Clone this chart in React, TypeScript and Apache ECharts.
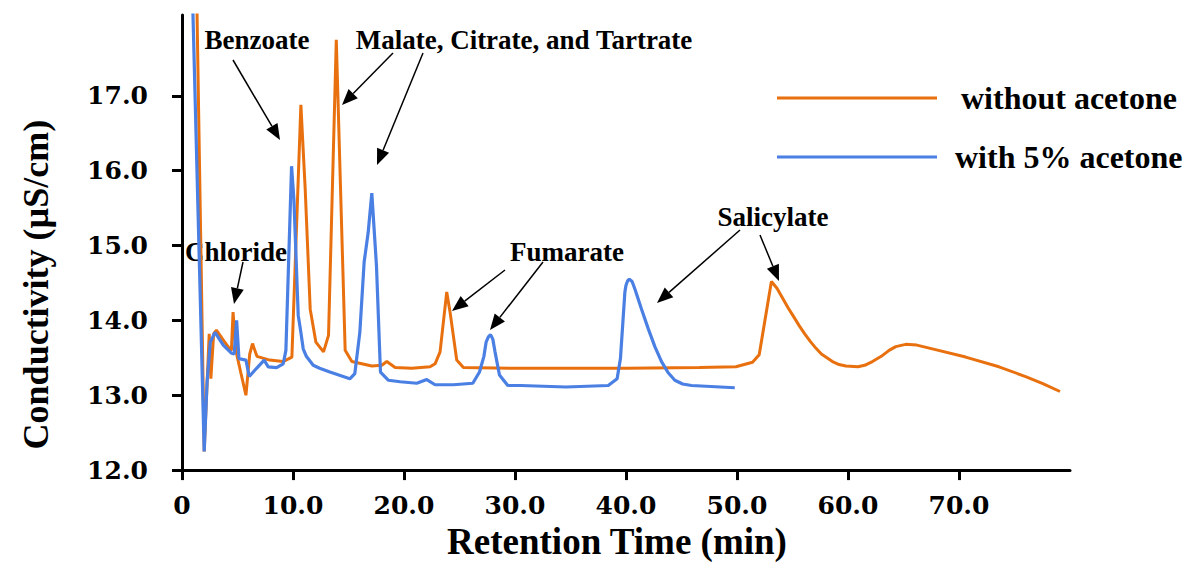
import React, { useEffect, useRef } from "react";
import * as echarts from "echarts";

// ---------- data ----------
const seriesNames = ["without acetone", "with 5% acetone"];

const orangeTime = [
  1.2, 2.0, 2.45, 2.6, 2.85, 3.1, 3.8, 4.3, 4.45, 4.6, 4.85, 5.3, 5.76, 6.1, 6.35, 6.75,
  7.9, 9.1, 9.9, 10.71, 11.1, 11.55, 12.06, 12.75, 13.2, 13.9, 14.7, 15.3, 17.1, 18.0,
  18.45, 19.2, 20.7, 22.35, 22.8, 23.25, 23.85, 24.15, 24.75, 25.35, 30.0, 40.0, 46.6,
  49.9, 51.4, 52.0, 53.1, 53.6, 54.1, 54.6, 55.1, 55.6, 56.1, 56.6, 57.1, 57.6, 58.1,
  58.6, 59.2, 59.8, 60.9, 61.5, 62.2, 63.0, 63.7, 64.3, 65.2, 66.2, 67.6, 70.6, 73.6,
  76.0, 77.5, 79.1,
];
const orangeValue = [
  19.5, 12.25, 13.82, 13.22, 13.82, 13.87, 13.72, 13.62, 13.6, 14.11, 13.6, 13.3, 13.0,
  13.55, 13.69, 13.52, 13.47, 13.45, 13.51, 16.88, 15.75, 14.15, 13.71, 13.58, 13.8,
  17.75, 13.6, 13.45, 13.39, 13.4, 13.45, 13.37, 13.36, 13.38, 13.42, 13.58, 14.38,
  14.11, 13.47, 13.37, 13.36, 13.36, 13.37, 13.38, 13.44, 13.54, 14.52, 14.43, 14.3,
  14.17, 14.05, 13.93, 13.82, 13.72, 13.63, 13.55, 13.5, 13.45, 13.41, 13.39, 13.38,
  13.4, 13.45, 13.52, 13.6, 13.65, 13.68, 13.67, 13.62, 13.51, 13.38, 13.25, 13.16,
  13.05,
];

const blueTime = [
  0.9, 2.0, 2.26, 2.55, 2.97, 3.72, 4.47, 4.7, 4.92, 5.13, 5.76, 6.06, 6.72, 7.4, 7.77,
  8.52, 9.12, 9.36, 9.87, 10.08, 10.47, 10.7, 10.92, 11.2, 11.82, 12.4, 13.32, 15.12,
  15.57, 16.02, 16.41, 16.77, 17.1, 17.52, 17.88, 18.6, 19.65, 21.15, 22.05, 22.8,
  24.45, 26.2, 26.8, 27.2, 27.4, 27.6, 27.8, 28.0, 28.2, 28.6, 29.35, 30.5, 34.6, 38.4,
  39.2, 39.5, 39.9, 40.0, 40.15, 40.3, 40.55, 40.8, 41.4, 42.0, 42.6, 43.2, 43.8, 44.4,
  45.1, 45.9, 49.8,
];
const blueValue = [
  18.6, 12.25, 13.18, 13.71, 13.84, 13.67, 13.56, 13.55, 14.0, 13.49, 13.47, 13.25,
  13.36, 13.47, 13.38, 13.37, 13.42, 13.6, 16.06, 15.62, 14.07, 13.85, 13.62, 13.52,
  13.4, 13.36, 13.31, 13.22, 13.29, 13.84, 14.78, 15.17, 15.7, 14.73, 13.31, 13.2,
  13.18, 13.16, 13.21, 13.14, 13.14, 13.16, 13.31, 13.52, 13.71, 13.78, 13.81, 13.75,
  13.58, 13.27, 13.13, 13.13, 13.11, 13.13, 13.22, 13.49, 14.38, 14.47, 14.53, 14.55,
  14.52, 14.42, 14.15, 13.89, 13.65, 13.45, 13.3, 13.2, 13.15, 13.13, 13.1,
];

const xTicks = [0, 10, 20, 30, 40, 50, 60, 70];
const yTicks = [12, 13, 14, 15, 16, 17];

// annotation layout (pixels)
const annotationLabels = [
  { text: "Benzoate", x: 257, y: 40 },
  { text: "Malate, Citrate, and Tartrate", x: 524, y: 40 },
  { text: "Chloride", x: 236, y: 252 },
  { text: "Fumarate", x: 567, y: 252 },
  { text: "Salicylate", x: 773, y: 217 },
];
const annotationArrows = [
  [233, 60, 280, 140],
  [393, 53, 342, 105],
  [423, 53, 377, 165],
  [243, 262, 234, 304],
  [505, 270, 452, 311],
  [543, 262, 490, 330],
  [740, 230, 657, 303],
  [760, 235, 779, 281],
];

const ORANGE = "#E8700F";
const BLUE = "#4A7FE3";
const SERIF = '"Liberation Serif", "Times New Roman", serif';
const TICKFONT = '"DejaVu Serif", serif';

function zip(a: number[], b: number[]) {
  return a.map((t, i) => [t, b[i]]);
}

function arrowGraphics(x1: number, y1: number, x2: number, y2: number) {
  const dx = x2 - x1;
  const dy = y2 - y1;
  const len = Math.sqrt(dx * dx + dy * dy);
  const ux = dx / len;
  const uy = dy / len;
  const headLen = 16;
  const headW = 13;
  const bx = x2 - ux * headLen;
  const by = y2 - uy * headLen;
  const px = -uy;
  const py = ux;
  return [
    {
      type: "line",
      shape: { x1, y1, x2: bx, y2: by },
      style: { stroke: "#000", lineWidth: 1.5 },
      silent: true,
    },
    {
      type: "polygon",
      shape: {
        points: [
          [x2, y2],
          [bx + (px * headW) / 2, by + (py * headW) / 2],
          [bx - (px * headW) / 2, by - (py * headW) / 2],
        ],
      },
      style: { fill: "#000" },
      silent: true,
    },
  ];
}

export default function App() {
  const ref = useRef<HTMLDivElement>(null);

  useEffect(() => {
    document.body.style.margin = "0";
    const chart = echarts.init(ref.current!, null, { renderer: "svg" });

    const graphics: any[] = [];
    annotationLabels.forEach((a) => {
      graphics.push({
        type: "text",
        x: a.x,
        y: a.y,
        silent: true,
        style: {
          text: a.text,
          fill: "#000",
          font: `bold 27px ${SERIF}`,
          align: "center",
          verticalAlign: "middle",
        },
      });
    });
    annotationArrows.forEach((ar) => {
      graphics.push(...arrowGraphics(ar[0], ar[1], ar[2], ar[3]));
    });

    const legendText = {
      color: "#000",
      fontFamily: SERIF,
      fontWeight: "bold",
      fontSize: 32,
    };

    chart.setOption({
      animation: false,
      backgroundColor: "#fff",
      grid: { left: 182, right: 114, top: 15, bottom: 93, containLabel: false },
      legend: [
        {
          data: [seriesNames[0]],
          left: 777,
          top: 82,
          padding: 0,
          icon: "rect",
          itemWidth: 160,
          itemHeight: 3,
          textStyle: { ...legendText, padding: [0, 0, 0, 19] },
        },
        {
          data: [seriesNames[1]],
          left: 777,
          top: 141,
          padding: 0,
          icon: "rect",
          itemWidth: 160,
          itemHeight: 3,
          textStyle: { ...legendText, padding: [0, 0, 0, 13] },
        },
      ],
      xAxis: {
        type: "value",
        min: 0,
        max: 80,
        interval: 10,
        name: "Retention Time (min)",
        nameLocation: "middle",
        nameGap: 52,
        nameTextStyle: {
          color: "#000",
          fontFamily: SERIF,
          fontWeight: "bold",
          fontSize: 37,
          padding: [0, 18, 0, 0],
        },
        axisLine: { lineStyle: { color: "#000", width: 3 } },
        axisTick: {
          length: 10,
          lineStyle: { color: "#000", width: 3 },
          customValues: xTicks,
        },
        axisLabel: {
          customValues: xTicks,
          margin: 23,
          color: "#000",
          fontFamily: TICKFONT,
          fontWeight: "bold",
          fontSize: 25,
          formatter: (v: number) => (v === 0 ? "0" : v.toFixed(1)),
        },
        splitLine: { show: false },
      },
      yAxis: {
        type: "value",
        min: 12,
        max: 18.08,
        interval: 1,
        name: "Conductivity (µS/cm)",
        nameLocation: "middle",
        nameRotate: 90,
        nameGap: 128,
        nameTextStyle: {
          color: "#000",
          fontFamily: SERIF,
          fontWeight: "bold",
          fontSize: 36,
          padding: [0, 84, 0, 0],
        },
        axisLine: { show: true, lineStyle: { color: "#000", width: 3 } },
        axisTick: {
          show: true,
          length: 10,
          lineStyle: { color: "#000", width: 3 },
          customValues: yTicks,
        },
        axisLabel: {
          customValues: yTicks,
          margin: 34,
          color: "#000",
          fontFamily: TICKFONT,
          fontWeight: "bold",
          fontSize: 25,
          formatter: (v: number) => v.toFixed(1),
        },
        splitLine: { show: false },
      },
      series: [
        {
          name: seriesNames[0],
          type: "line",
          data: zip(orangeTime, orangeValue),
          symbol: "none",
          clip: true,
          lineStyle: { color: ORANGE, width: 3 },
          itemStyle: { color: ORANGE },
          z: 2,
        },
        {
          name: seriesNames[1],
          type: "line",
          data: zip(blueTime, blueValue),
          symbol: "none",
          clip: true,
          lineStyle: { color: BLUE, width: 3.2 },
          itemStyle: { color: BLUE },
          z: 3,
        },
      ],
      graphic: graphics,
    });

    return () => chart.dispose();
  }, []);

  return (
    <div
      ref={ref}
      style={{ position: "fixed", left: 0, top: 0, width: 1184, height: 565 }}
    />
  );
}
